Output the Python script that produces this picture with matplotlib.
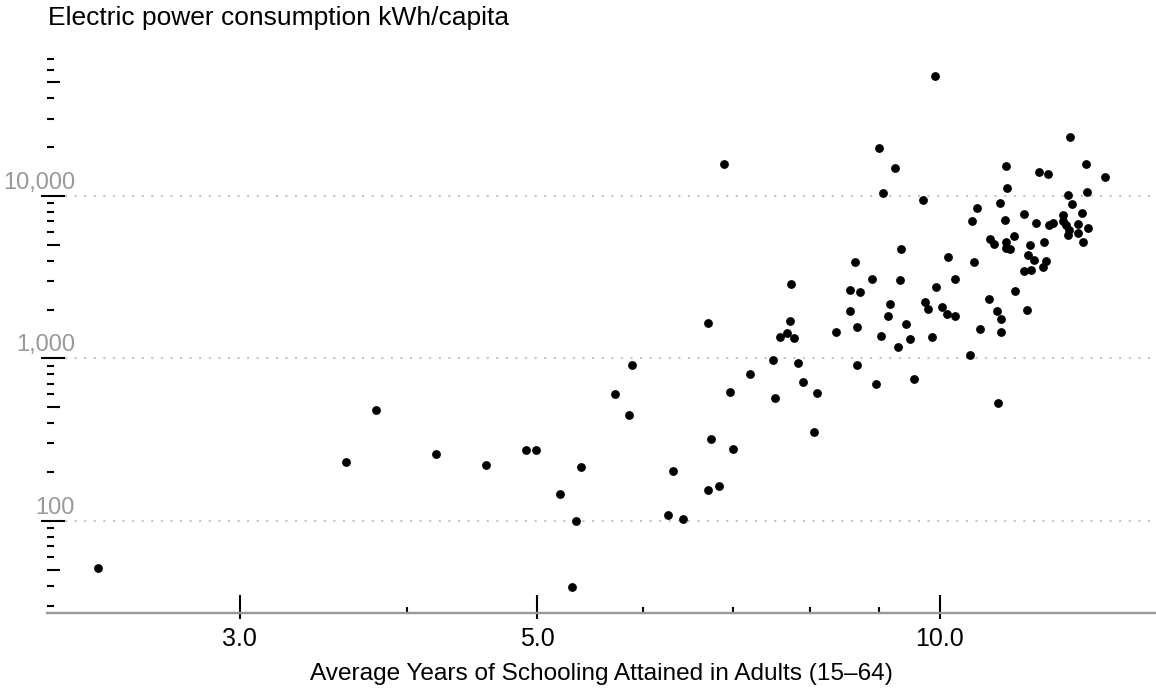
import matplotlib
matplotlib.use("Agg")
import matplotlib.pyplot as plt
from matplotlib import transforms
from matplotlib.ticker import NullLocator

plt.rcParams['font.family'] = ['Liberation Sans', 'DejaVu Sans']

# average years of schooling (15-64) vs electric power consumption (kWh per capita)
schooling_years = [
    2.35, 3.60, 3.79, 4.20, 4.58, 4.91, 4.99, 5.39, 5.20, 5.35, 5.31, 5.72,
    5.86, 5.89, 6.32, 6.26, 6.43, 6.71, 6.84, 6.75, 7.01, 6.97, 7.21, 6.71,
    7.51, 7.53, 7.83, 7.90, 8.09, 8.05, 7.74, 7.73, 7.59, 7.69, 7.78, 8.37,
    8.67, 8.57, 8.56, 8.72, 8.64, 8.90, 8.67, 8.96, 9.03, 9.14, 9.17, 9.30,
    9.43, 9.50, 9.34, 9.36, 9.57, 9.75, 9.79, 9.87, 9.94, 10.03, 10.12, 10.26,
    10.14, 10.27, 10.60, 10.53, 10.71, 10.88, 11.04, 11.10, 11.10, 11.05, 11.37, 11.61,
    9.92, 6.90, 9.00, 9.26, 9.06, 9.72, 12.50, 11.20, 11.85, 12.04, 12.86, 13.28,
    11.23, 12.47, 12.87, 10.66, 11.09, 10.57, 11.19, 11.56, 11.79, 12.07, 12.15, 12.36,
    12.36, 12.42, 12.55, 12.76, 12.68, 12.91, 12.48, 12.46, 12.69, 12.78, 10.90, 10.98,
    11.20, 11.20, 11.28, 11.36, 11.68, 11.96, 11.64, 11.75, 12.01, 11.94, 11.69, 11.56,
]
power_kwh = [
    51.4, 230, 480, 257, 220, 272, 275, 216, 147, 100, 38.9, 602,
    449, 908, 203, 108, 103, 155, 164, 321, 276, 622, 806, 1661,
    979, 571, 942, 720, 611, 353, 2874, 1694, 1362, 1441, 1331, 1462,
    1556, 1960, 2628, 2555, 3925, 3098, 912, 697, 1381, 1826, 2165, 1172,
    1631, 1318, 3041, 4699, 748, 2218, 2017, 1350, 2743, 2084, 1887, 1826,
    4232, 3098, 3908, 1055, 1512, 2324, 1960, 1743, 1462, 532, 2602, 1980,
    54530, 15740, 19830, 14940, 10390, 9489, 23170, 15370, 14050, 13600, 15740, 13150,
    11200, 10190, 10580, 8472, 9096, 6987, 7148, 7783, 6792, 6659, 6792, 7607,
    7017, 6630, 8929, 7893, 6696, 6327, 6177, 5731, 5895, 5189, 5437, 5045,
    5189, 4766, 4699, 5649, 4973, 5189, 4354, 4038, 3981, 3672, 3505, 3441,
]

x_major = [3, 5, 10]
x_major_labels = ["3.0", "5.0", "10.0"]
x_minor = [4, 6, 7, 8, 9]
y_major = [100, 1000, 10000]
y_major_labels = ["100", "1,000", "10,000"]
y_minor = [m * 10 ** k for k in range(1, 5) for m in range(2, 10)]

W, H = 1156, 689
ylo, yhi = 27.1, 73800
fig = plt.figure(figsize=(W / 100, H / 100), dpi=100)
ax_h = 558
ax = fig.add_axes([47 / W, 76 / H, 1109 / W, ax_h / H])
ax.set_xscale('log')
ax.set_yscale('log')
ax.set_xlim(2.153, 14.5)
ax.set_ylim(ylo, yhi)

for s in ['top', 'right', 'left']:
    ax.spines[s].set_visible(False)
ax.spines['bottom'].set_color('#999999')
ax.spines['bottom'].set_linewidth(1.7)

# dotted grid at the decades
ax.hlines(y_major, 18 / 1109, 1, transform=ax.get_yaxis_transform(),
          colors='#c4c4c4', linewidth=1.5, linestyle=(0, (1, 3.6)), zorder=1)

ax.scatter(schooling_years, power_kwh, s=40, color='black', linewidths=0, zorder=3)

# tick marks drawn by hand (asymmetric lengths)
ax.xaxis.set_minor_locator(NullLocator())
ax.yaxis.set_minor_locator(NullLocator())
ax.set_yticks([])
ax.set_xticks(x_major)
ax.set_xticklabels(x_major_labels)
ax.tick_params(axis='x', length=0, pad=10, labelsize=18, colors='black')

xt = ax.get_xaxis_transform()
ax.vlines(x_major, -6 / ax_h, 18 / ax_h, transform=xt, colors='black', linewidth=1.5, clip_on=False)
ax.vlines(x_minor, 0, 6 / ax_h, transform=xt, colors='black', linewidth=1.5, clip_on=False)

yt = ax.get_yaxis_transform()
ax.hlines(y_major, -6 / 1109, 18 / 1109, transform=yt, colors='black', linewidth=1.5, clip_on=False)
mid = [v for v in y_minor if str(v).startswith('5') and ylo < v < yhi]
small = [v for v in y_minor if not str(v).startswith('5') and ylo < v < yhi]
ax.hlines(mid, 0, 13 / 1109, transform=yt, colors='black', linewidth=1.5)
ax.hlines(small, 0, 7 / 1109, transform=yt, colors='black', linewidth=1.5)

lab_tr = transforms.offset_copy(yt, fig=fig, x=0, y=7, units='dots')
for v, lab in zip(y_major, y_major_labels):
    ax.text(28 / 1109, v, lab, transform=lab_tr, ha='right', va='baseline',
            fontsize=17, color='#999999')

ax.set_xlabel("Average Years of Schooling Attained in Adults (15\u201364)", fontsize=17.6, labelpad=9)
fig.text(48 / W, 1 - 25 / H, "Electric power consumption kWh/capita", fontsize=19,
         ha='left', va='baseline')

fig.savefig("out.png", dpi=100)
